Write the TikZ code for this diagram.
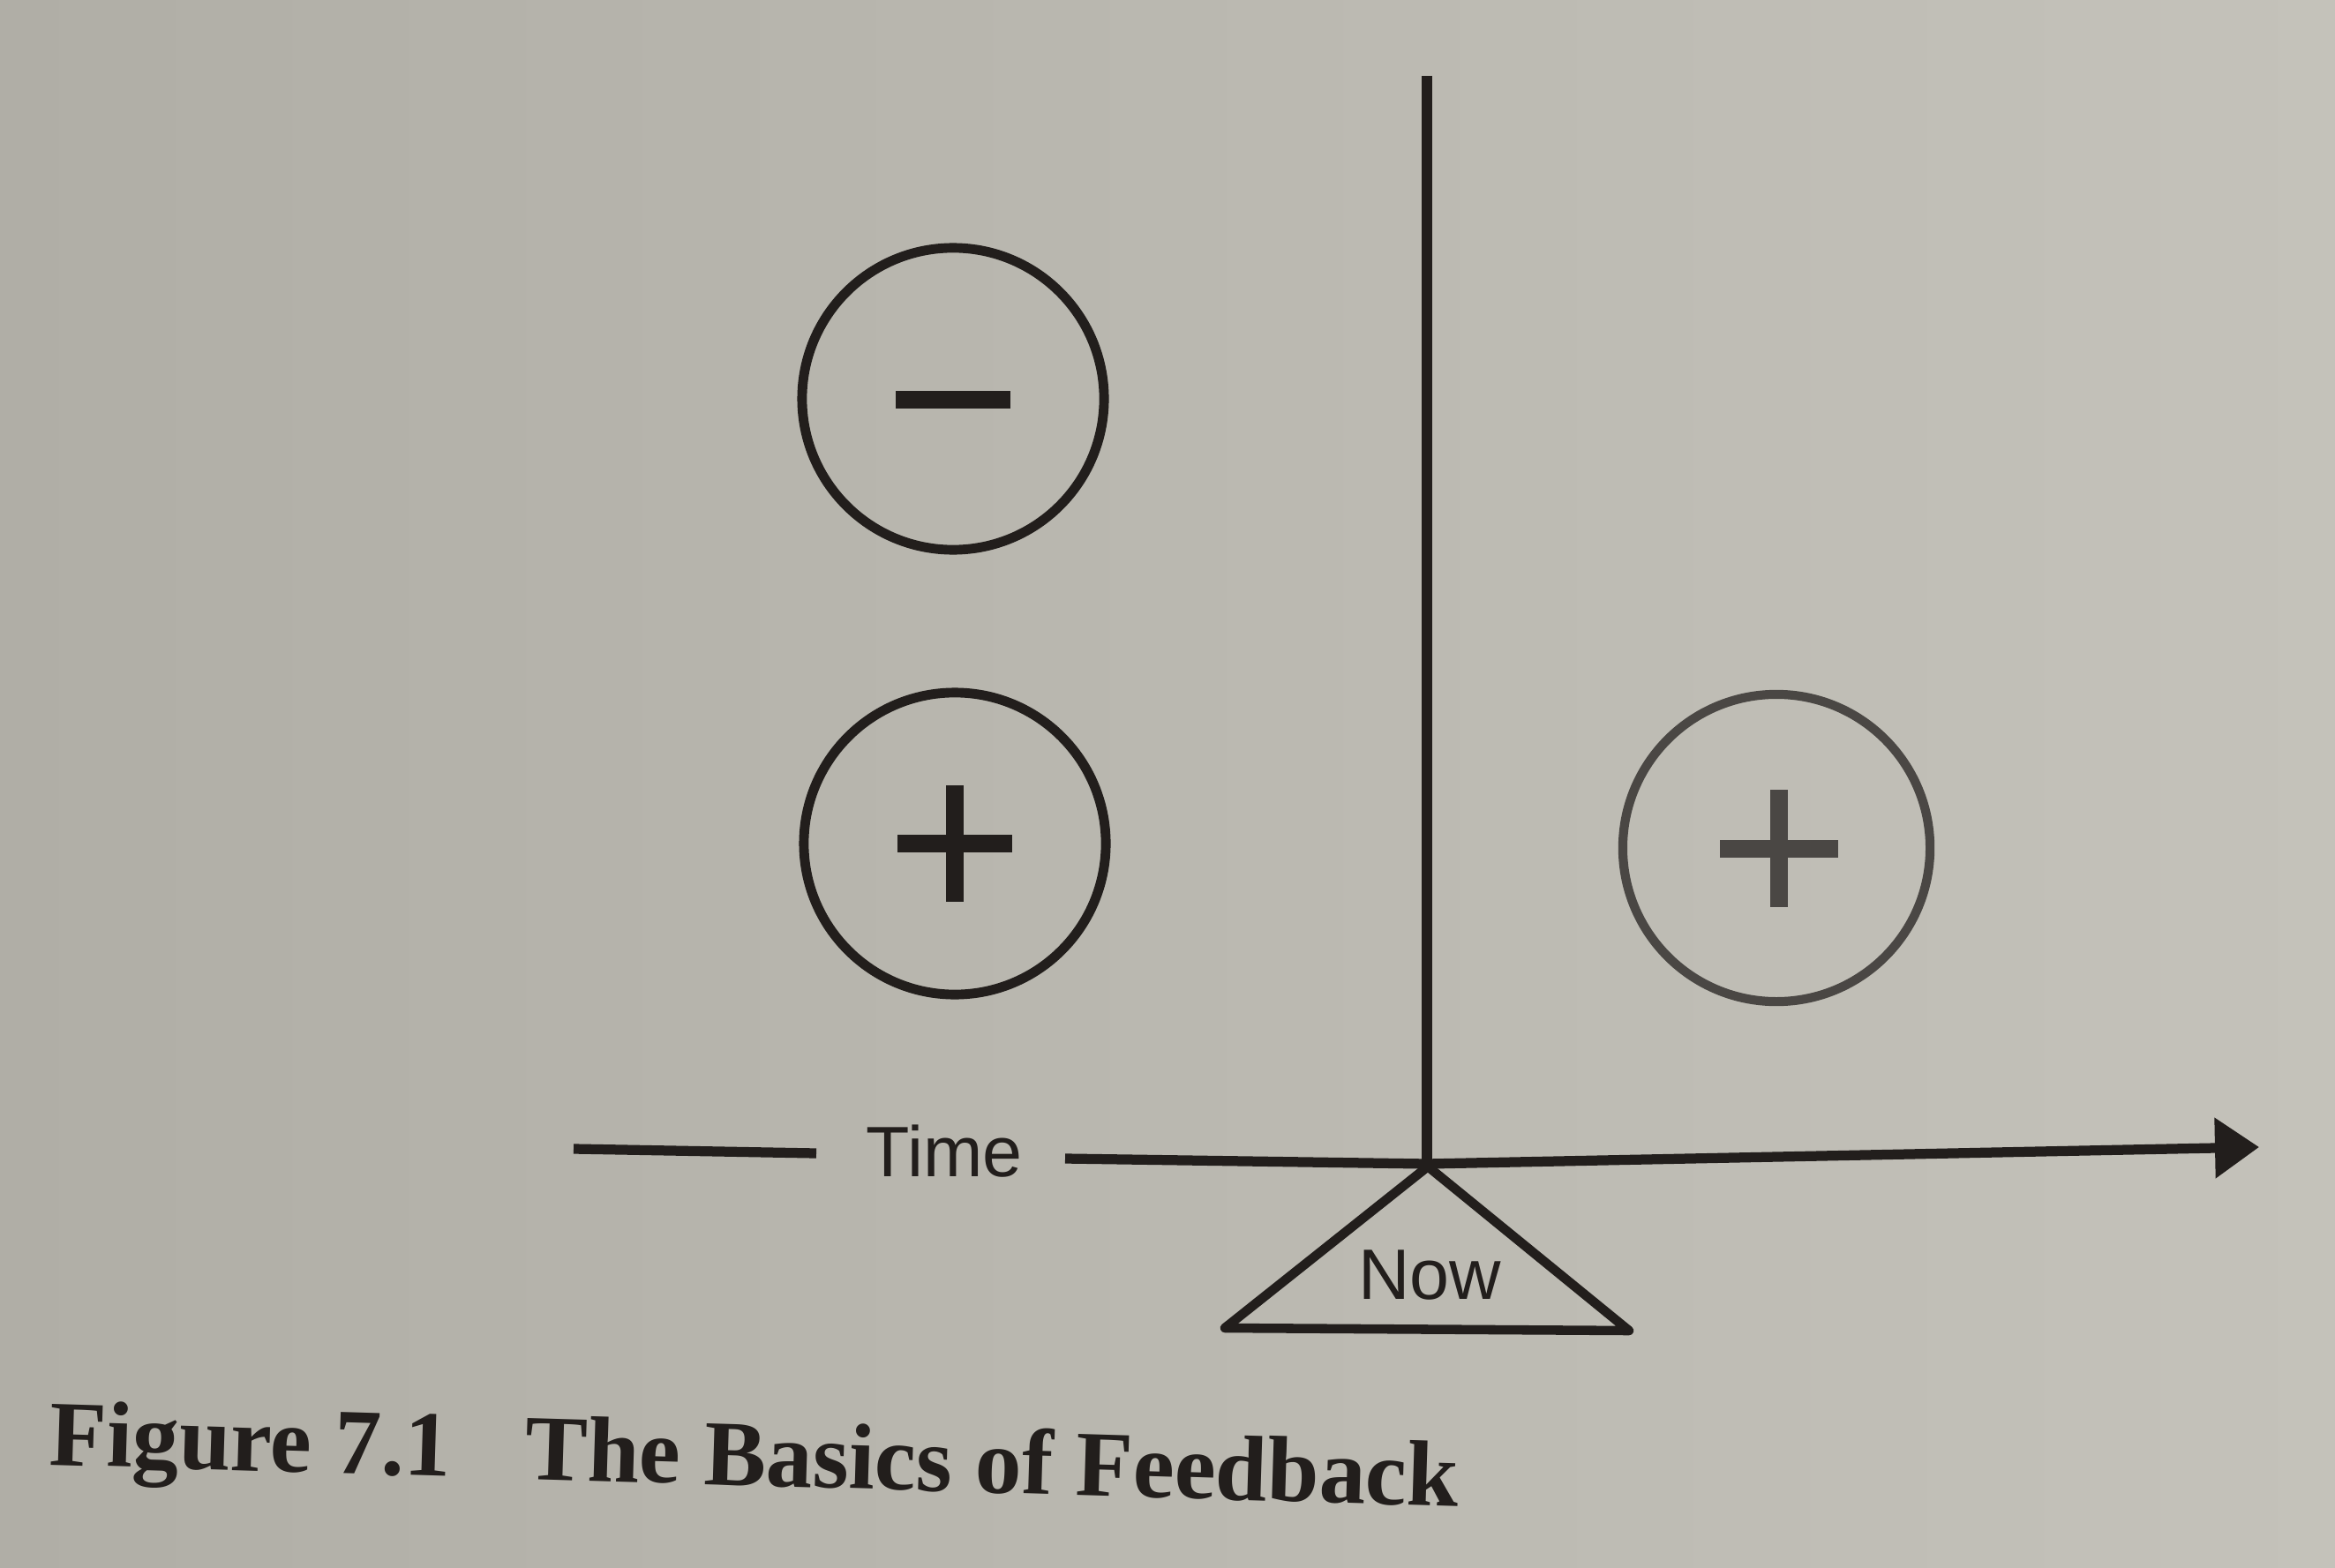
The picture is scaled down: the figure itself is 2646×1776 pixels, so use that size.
\documentclass[tikz,border=0pt]{standalone}
\usepackage{fontspec}
\setmainfont{Liberation Serif}
\newfontfamily\labelfont{Liberation Sans}
\usetikzlibrary{arrows.meta,calc}
\definecolor{paperdark}{HTML}{B0AEA6}
\definecolor{paperlight}{HTML}{C4C2BA}
\definecolor{ink}{HTML}{221E1C}
\definecolor{greyink}{HTML}{4A4744}
\begin{document}
\begin{tikzpicture}[x=0.01cm,y=-0.01cm,
  ring/.style={circle,draw=ink,line width=3.1pt,minimum size=3.42cm,inner sep=0pt},
  greyring/.style={ring,draw=greyink,line width=2.9pt,minimum size=3.48cm},
  bar/.style={draw=ink,line width=5.8pt,line cap=butt},
  greybar/.style={bar,draw=greyink},
  axisline/.style={draw=ink,line width=3.2pt},
  tri/.style={draw=ink,line width=3pt,line join=round},
  lbl/.style={font=\labelfont\fontsize{23}{28}\selectfont,text=ink,inner sep=0pt},
  capt/.style={font=\bfseries\fontsize{30}{36}\selectfont,text=ink,inner sep=0pt}]
\shade[left color=paperdark,right color=paperlight] (0,0) rectangle (2646,1776);
\useasboundingbox (0,0) rectangle (2646,1776);

% circles
\node[ring] (minus) at (1080,452) {};
\node[ring] (plusL) at (1082,956) {};
\node[greyring] (plusR) at (2013,961) {};

% signs
\draw[bar] (minus.center) ++(-65,1) -- ++(130,0);
\draw[bar] (plusL.center) ++(-65,0) -- ++(130,0);
\draw[bar] (plusL.center) ++(0,-66) -- ++(0,132);
\draw[greybar] (plusR.center) ++(-64,1) -- ++(134,0);
\draw[greybar] (plusR.center) ++(3,-66) -- ++(0,133);

% axes
\coordinate (vtop) at (1617,86);
\coordinate (origin) at (1617,1319);
\coordinate (tl) at (650,1302);
\coordinate (tr) at (925,1307);
\coordinate (rs) at (1207,1313);
\coordinate (tip) at (2560,1300);
\draw[axisline] (vtop) -- (origin);
\draw[axisline] (tl) -- (tr);
\draw[axisline,-{Triangle[length=0.5cm,width=0.66cm]}] (rs) -- (origin) -- (tip);
\node[lbl,anchor=base] (time) at (1070,1333) {Time};

% Now triangle
\coordinate (apex) at (1618,1322);
\coordinate (bl) at (1388,1505);
\coordinate (br) at (1846,1508);
\draw[tri] (apex) -- (bl) -- (br) -- cycle;
\node[lbl,anchor=base] (now) at (1620,1472) {Now};

% caption
\node[capt,anchor=base west,rotate=-1.7] (caption) at (55,1660)
  {Figure 7.1\hspace{0.8em}The Basics of Feedback};
\end{tikzpicture}
\end{document}
